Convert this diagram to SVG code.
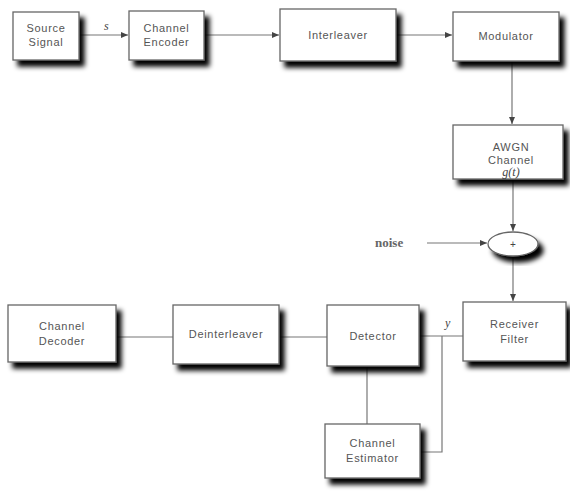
<svg xmlns="http://www.w3.org/2000/svg" width="570" height="495" viewBox="0 0 570 495">
  <defs>
    <filter id="shadow" x="-20%" y="-20%" width="150%" height="160%">
      <feGaussianBlur in="SourceAlpha" stdDeviation="2.4"/>
      <feOffset dx="5" dy="6" result="b"/>
      <feComponentTransfer in="b" result="s"><feFuncA type="linear" slope="1"/></feComponentTransfer>
      <feMerge><feMergeNode in="s"/><feMergeNode in="SourceGraphic"/></feMerge>
    </filter>
    <marker id="arrow" markerWidth="8" markerHeight="6" refX="7" refY="3" orient="auto" markerUnits="userSpaceOnUse">
      <path d="M0,0 L7,3 L0,6 Z" fill="#444"/>
    </marker>
  </defs>
  <style>
    .box { fill: #fff; stroke: #666; stroke-width: 1.3; filter: url(#shadow); }
    .lbl { font-family: "Liberation Sans", Arial, sans-serif; font-size: 11px; fill: #555; text-anchor: middle; letter-spacing: 0.7px; }
    .math { font-family: "Liberation Serif", "Times New Roman", serif; font-size: 12px; fill: #444; font-style: italic; }
    .edge { fill: none; stroke: #777; stroke-width: 1.2; }
  </style>
  <rect width="570" height="495" fill="#fff"/>

  <!-- connectors -->
  <g id="connectors">
    <line class="edge" x1="79" y1="35" x2="128" y2="35" marker-end="url(#arrow)"/>
    <line class="edge" x1="204" y1="35" x2="279" y2="35" marker-end="url(#arrow)"/>
    <line class="edge" x1="396" y1="35" x2="452" y2="35" marker-end="url(#arrow)"/>
    <line class="edge" x1="512" y1="61" x2="512" y2="124" marker-end="url(#arrow)"/>
    <line class="edge" x1="513" y1="179" x2="513" y2="231" marker-end="url(#arrow)"/>
    <line class="edge" x1="427" y1="243" x2="487" y2="243" marker-end="url(#arrow)"/>
    <line class="edge" x1="513" y1="256" x2="513" y2="301" marker-end="url(#arrow)"/>
    <line class="edge" x1="463" y1="336" x2="419" y2="336"/>
    <polyline class="edge" points="442,336 442,452 420,452"/>
    <line class="edge" x1="367" y1="366" x2="367" y2="424"/>
    <line class="edge" x1="327" y1="337" x2="279" y2="337"/>
    <line class="edge" x1="173" y1="337" x2="116" y2="337"/>
    <text class="math" x="104" y="30">s</text>
    <text class="math" x="445" y="327">y</text>
    <text x="375" y="247" font-family="Liberation Serif, serif" font-size="13" font-weight="bold" fill="#666">noise</text>
  </g>

  <g id="source">
    <rect class="box" x="13" y="12" width="66" height="48"/>
    <text class="lbl" x="46" y="32">Source</text>
    <text class="lbl" x="46" y="46">Signal</text>
  </g>
  <g id="encoder">
    <rect class="box" x="129" y="11" width="75" height="49"/>
    <text class="lbl" x="166.5" y="32">Channel</text>
    <text class="lbl" x="166.5" y="46">Encoder</text>
  </g>
  <g id="interleaver">
    <rect class="box" x="280" y="9" width="116" height="52"/>
    <text class="lbl" x="338" y="39">Interleaver</text>
  </g>
  <g id="modulator">
    <rect class="box" x="453" y="12" width="106" height="49"/>
    <text class="lbl" x="506" y="40">Modulator</text>
  </g>
  <g id="awgn">
    <rect class="box" x="453" y="125" width="110" height="54"/>
    <text class="lbl" x="511" y="151">AWGN</text>
    <text class="lbl" x="511" y="164">Channel</text>
    <text class="math" x="511" y="176" text-anchor="middle">g(t)</text>
  </g>
  <g id="adder">
    <ellipse cx="513" cy="244" rx="25" ry="12" fill="#fff" stroke="#666" stroke-width="1.3" filter="url(#shadow)"/>
    <text x="513" y="248" font-family="Liberation Sans, sans-serif" font-size="10" fill="#444" text-anchor="middle">+</text>
  </g>
  <g id="receiver">
    <rect class="box" x="463" y="302" width="103" height="59"/>
    <text class="lbl" x="514.5" y="328">Receiver</text>
    <text class="lbl" x="514.5" y="343">Filter</text>
  </g>
  <g id="detector">
    <rect class="box" x="327" y="305" width="92" height="61"/>
    <text class="lbl" x="373" y="340">Detector</text>
  </g>
  <g id="estimator">
    <rect class="box" x="325" y="424" width="95" height="54"/>
    <text class="lbl" x="372.5" y="447">Channel</text>
    <text class="lbl" x="372.5" y="462">Estimator</text>
  </g>
  <g id="deinterleaver">
    <rect class="box" x="173" y="305" width="106" height="59"/>
    <text class="lbl" x="226" y="338">Deinterleaver</text>
  </g>
  <g id="decoder">
    <rect class="box" x="8" y="305" width="108" height="57"/>
    <text class="lbl" x="62" y="330">Channel</text>
    <text class="lbl" x="62" y="345">Decoder</text>
  </g>
</svg>
